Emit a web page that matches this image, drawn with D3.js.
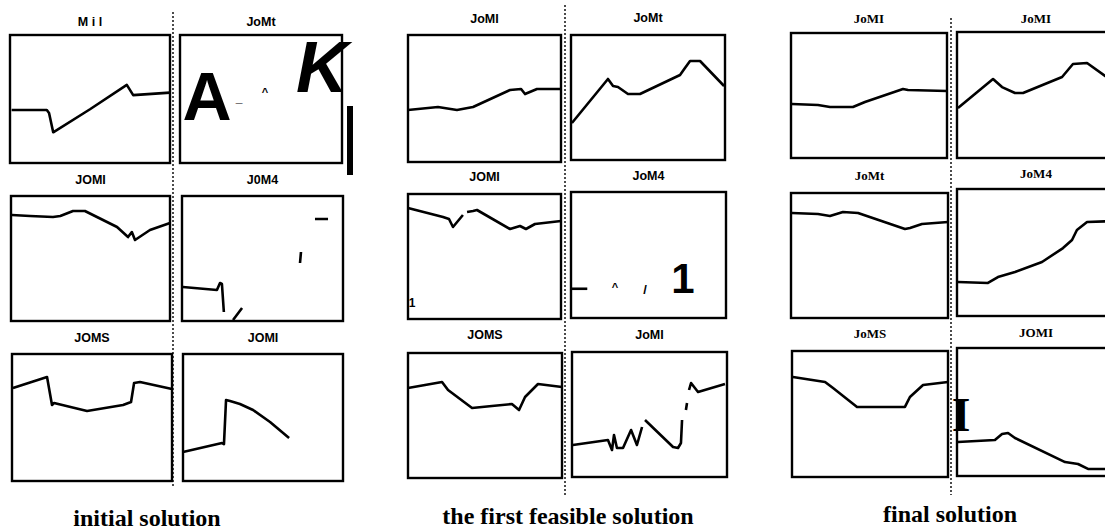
<!DOCTYPE html>
<html>
<head>
<meta charset="utf-8">
<script src="https://cdn.jsdelivr.net/npm/d3@7"></script>
<style>
  body { margin: 0; background: #fff; }
  svg { display: block; }
</style>
</head>
<body>
<div id="chart"></div>
<script>
// panel titles, by group (left to right, top to bottom)
const titlesInitial  = ['M i l', 'JoMt', 'JOMI', 'J0M4', 'JOMS', 'JOMI'];
const titlesFeasible = ['JoMI', 'JoMt', 'JOMI', 'JoM4', 'JOMS', 'JoMI'];
const titlesFinal    = ['JoMI', 'JoMI', 'JoMt', 'JoM4', 'JoMS', 'JOMI'];
const captions = ['initial solution', 'the first feasible solution', 'final solution'];

// curves: [x %, value %], null = gap in the trace
const initMil  = [[1,41.4],[23,41.4],[24.4,39],[27,24],[50,42],[73,61],[77,53],[100,55]];
const initJoMt = [];
const initJOMI = [[0.6,84.8],[12,84],[26.4,83.2],[31,84],[39,88],[46.5,88],[66.7,75.2],[73.6,67.2],[76,71.2],[78,64.8],[87.4,72.8],[100,78.4]];
const initJ0M4 = [[0.6,27.2],[21.7,24.8],[23.6,30.4],[24.8,29.6],[26,7.2],null,[31.7,0.8],[37.3,10.4],null,[73.3,46.4],[73.9,55.2],null,[82.6,81.6],[90.7,81.6]];
const initJOMS = [[0.6,73.2],[21.9,81.9],[25,59.8],[26.3,61.4],[46.9,55.1],[69.4,59.8],[74.4,62.2],[76.3,77.2],[80,78],[100,72.4]];
const initJOMI2 = [[0,22.8],[24.4,29.9],[25.6,29],[26.9,63.8],[29.4,63],[35.6,60.6],[43.8,55.9],[54.4,46.5],[66.3,33.9]];

const feasJoMI = [[0,40.9],[19.6,43.3],[32,40.9],[42.5,43.3],[66.7,56.7],[73.9,57.5],[76.5,53.5],[84.3,57.5],[100,57.5]];
const feasJoMt = [[0.6,29.6],[24,64.8],[27.3,59.2],[30.5,58.4],[37,52.8],[44.8,52.8],[70.8,68],[74,73.6],[77.3,79.2],[83.8,79.2],[99.4,59.2]];
const feasJOMI = [[0,88.8],[22.9,81.6],[26.8,80],[29.4,73.6],[35.9,83.2],null,[38.6,85.6],[42.5,86.4],[45.1,87.2],[66.7,72],[73.2,74.4],[77.1,72],[83,76],[100,78.4]];
const feasJoM4 = [[0.6,23.2],[10.5,23.2]];
const feasJOMS = [[0,72],[22.1,76.8],[26,70.4],[41.6,56],[54.5,57.6],[67.5,59.2],[72.1,54.4],[76,64.8],[84.4,75.2],[100,72.8]];
const feasJoMI2 = [[0.6,25.6],[23.2,29.6],[25.8,21.6],[27.1,33.6],[29,23.2],[32.9,23.2],[38.1,37.6],[41.9,25.6],[45.2,40],null,[47.1,45.6],[65.2,24],[68.4,23.2],[70.3,27.2],[71,45.6],null,[73.5,53.6],[74.2,59.2],null,[75.5,69.6],[76.8,75.2],[81.3,68],[98.7,74.4]];

const finJoMI  = [[0.6,43.2],[17.3,42.4],[25,40.8],[39.7,40.8],[47.4,44.8],[71.8,55.2],[75,54.4],[100,53.6]];
const finJoMI2 = [[0.6,39.7],[22.8,62.7],[28.5,56.3],[36.7,51.6],[41.8,51.6],[66.5,64.3],[73.4,74.6],[82.3,75.4],[93.7,65.1],[100,60]];
const finJoMt  = [[0.6,84],[17.2,83.2],[24.8,81.6],[33.1,84.8],[42.7,84],[72.6,71.2],[75.8,72],[83.4,75.2],[100,76.8]];
const finJoM4  = [[0.6,26.8],[19.6,26],[25.9,30.7],[36.7,34.6],[53.8,42.5],[67.1,53.5],[72.8,59.8],[75.9,67.7],[82.3,74],[100,74.8]];
const finJoMS  = [[0.6,79.4],[21.2,75.4],[26.3,70.6],[41.7,55.6],[55.1,55.6],[72.4,55.6],[75.6,63.5],[84,73],[100,75.4]];
const finJOMI  = [[0.6,26.6],[24,28.1],[28.5,32.8],[32.3,33.6],[36.7,29.7],[68.4,10.9],[76.6,9.4],[82.9,5.5],[100,5.5]];

const W = 1105, H = 531;
const svg = d3.select('#chart').append('svg').attr('width', W).attr('height', H);

// panel boxes and title baselines
const panels = [
  {x:10,  y:35,  w:160, h:128, ty:26,  title:titlesInitial[0],  data:initMil,  font:'sans'},
  {x:180, y:35,  w:162, h:128, ty:26,  title:titlesInitial[1],  data:initJoMt, font:'sans'},
  {x:11,  y:196, w:159, h:125, ty:184, title:titlesInitial[2],  data:initJOMI, font:'sans'},
  {x:182, y:196, w:161, h:125, ty:184, title:titlesInitial[3],  data:initJ0M4, font:'sans'},
  {x:12,  y:354, w:160, h:127, ty:342, title:titlesInitial[4],  data:initJOMS, font:'sans'},
  {x:183, y:354, w:160, h:127, ty:342, title:titlesInitial[5],  data:initJOMI2, font:'sans'},
  {x:408, y:35,  w:153, h:127, ty:23,  title:titlesFeasible[0], data:feasJoMI, font:'sans'},
  {x:571, y:35,  w:154, h:125, ty:22,  title:titlesFeasible[1], data:feasJoMt, font:'sans'},
  {x:408, y:194, w:153, h:125, ty:181, title:titlesFeasible[2], data:feasJOMI, font:'sans'},
  {x:571, y:192, w:155, h:126, ty:180, title:titlesFeasible[3], data:feasJoM4, font:'sans'},
  {x:408, y:353, w:154, h:125, ty:339, title:titlesFeasible[4], data:feasJOMS, font:'sans'},
  {x:572, y:352, w:155, h:125, ty:339, title:titlesFeasible[5], data:feasJoMI2, font:'sans'},
  {x:791, y:33,  w:156, h:125, ty:23,  title:titlesFinal[0],    data:finJoMI,  font:'serif'},
  {x:957, y:32,  w:158, h:126, ty:23,  title:titlesFinal[1],    data:finJoMI2, font:'serif'},
  {x:791, y:193, w:157, h:125, ty:180, title:titlesFinal[2],    data:finJoMt,  font:'serif'},
  {x:957, y:189, w:158, h:127, ty:178, title:titlesFinal[3],    data:finJoM4,  font:'serif'},
  {x:792, y:351, w:156, h:126, ty:338, title:titlesFinal[4],    data:finJoMS,  font:'serif'},
  {x:957, y:348, w:158, h:128, ty:337, title:titlesFinal[5],    data:finJOMI,  font:'serif'}
];

const fonts = {sans: '"Liberation Sans", Arial, sans-serif', serif: '"Liberation Serif", "Times New Roman", serif'};

panels.forEach(p => {
  const g = svg.append('g').attr('transform', `translate(${p.x},${p.y})`);
  const x = d3.scaleLinear().domain([0, 100]).range([0, p.w]);
  const y = d3.scaleLinear().domain([0, 100]).range([p.h, 0]);

  g.append('rect')
    .attr('width', p.w).attr('height', p.h)
    .attr('fill', 'none').attr('stroke', '#000').attr('stroke-width', 2.4);

  const line = d3.line()
    .defined(d => d !== null)
    .x(d => x(d[0]))
    .y(d => y(d[1]));

  if (p.data.length) {
    g.append('path')
      .datum(p.data)
      .attr('d', line)
      .attr('fill', 'none')
      .attr('stroke', '#000')
      .attr('stroke-width', 2.6)
      .attr('stroke-linejoin', 'round');
  }

  svg.append('text')
    .attr('x', p.x + p.w / 2).attr('y', p.ty)
    .attr('text-anchor', 'middle')
    .attr('font-family', fonts[p.font])
    .attr('font-weight', 'bold')
    .attr('font-size', p.font === 'serif' ? 13 : 12.5)
    .text(p.title);
});

// dotted separators between the two columns of each group
[[173, 12, 488], [565, 5, 495], [951, 18, 495]].forEach(s => {
  svg.append('line')
    .attr('x1', s[0]).attr('x2', s[0]).attr('y1', s[1]).attr('y2', s[2])
    .attr('stroke', '#000').attr('stroke-width', 1.4)
    .attr('stroke-dasharray', '2,2');
});

// group captions
[[147, 526, captions[0]], [568, 524, captions[1]], [950, 522, captions[2]]].forEach(c => {
  svg.append('text')
    .attr('x', c[0]).attr('y', c[1])
    .attr('text-anchor', 'middle')
    .attr('font-family', fonts.serif)
    .attr('font-weight', 'bold')
    .attr('font-size', 24)
    .text(c[2]);
});

// scan debris kept as it appears in the figure
const marks = [
  {x:207, y:120, t:'A', size:68, font:'sans', style:'normal'},
  {x:322, y:92,  t:'K', size:72, font:'sans', style:'italic'},
  {x:239, y:102, t:'_', size:12, font:'sans', style:'normal'},
  {x:265, y:96,  t:'^', size:11, font:'sans', style:'normal'},
  {x:412, y:307, t:'1', size:12, font:'sans', style:'normal'},
  {x:615, y:291, t:'^', size:11, font:'sans', style:'normal'},
  {x:645, y:294, t:'/', size:13, font:'sans', style:'normal'},
  {x:683, y:293, t:'1', size:42, font:'sans', style:'normal'},
  {x:961, y:431, t:'I', size:48, font:'serif', style:'normal'}
];
marks.forEach(m => {
  svg.append('text')
    .attr('x', m.x).attr('y', m.y)
    .attr('text-anchor', 'middle')
    .attr('font-family', fonts[m.font])
    .attr('font-weight', 'bold')
    .attr('font-style', m.style)
    .attr('font-size', m.size)
    .text(m.t);
});
svg.append('rect').attr('x', 347).attr('y', 106).attr('width', 6).attr('height', 69).attr('fill', '#000');
</script>
</body>
</html>
